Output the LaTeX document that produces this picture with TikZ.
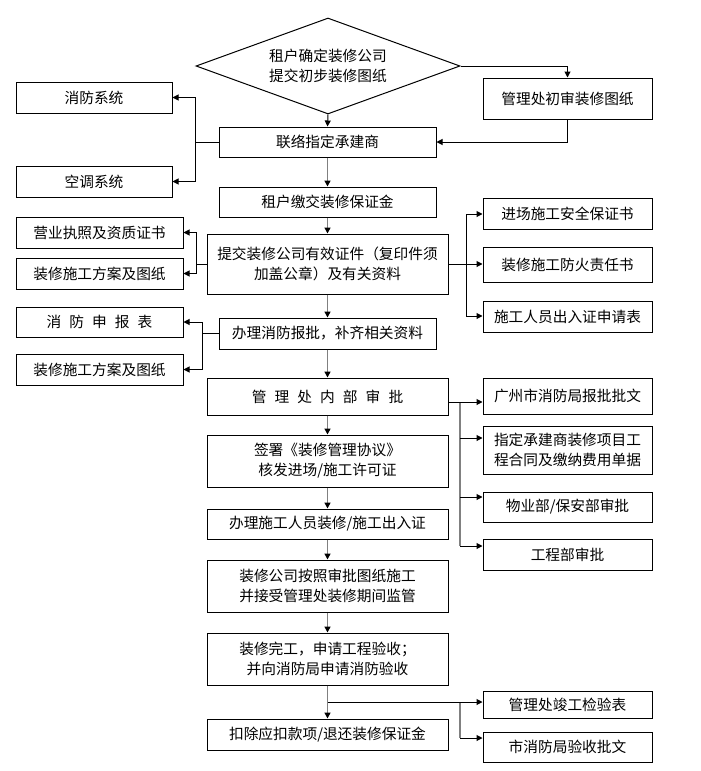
\documentclass[tikz,border=0pt]{standalone}
\usepackage{fontspec}
\setmainfont{Noto Sans CJK SC}
\usetikzlibrary{arrows.meta,shapes.geometric}
\definecolor{lgray}{RGB}{128,128,128}
\newcommand{\cjksp}{\hspace{0.55em}}
\begin{document}
\begin{tikzpicture}[x=1pt,y=-1pt,
  box/.style={draw=black,line width=1pt,inner sep=0pt,align=center,
    font=\fontsize{14.7}{20}\selectfont},
  conn/.style={draw=black,line width=1pt,-{Triangle[width=6pt,length=6pt]}},
  gconn/.style={draw=lgray,line width=1.6pt,-{Triangle[width=6pt,length=6pt,color=black]}},
  bline/.style={draw=black,line width=1pt},
  gline/.style={draw=lgray,line width=1.6pt}]
\useasboundingbox (0,0) rectangle (701,771);
% nodes
\node[box,shape=diamond,shape aspect=2.75,minimum width=264,minimum height=96] (d) at (328,66) {租户确定装修公司\\提交初步装修图纸};
\node[box,minimum width=169,minimum height=41] (csp) at (567.5,98.5) {管理处初审装修图纸};
\node[box,minimum width=217,minimum height=30] (lx) at (327.5,142) {联络指定承建商};
\node[box,minimum width=156,minimum height=31] (xf) at (94,97.5) {消防系统};
\node[box,minimum width=156,minimum height=31] (kt) at (94,181.5) {空调系统};
\node[box,minimum width=217,minimum height=30] (zh) at (327.5,202) {租户缴交装修保证金};
\node[box,minimum width=241,minimum height=60] (tj) at (327.5,264) {提交装修公司有效证件（复印件须\\加盖公章）及有关资料};
\node[box,minimum width=167,minimum height=31] (yy) at (99.5,232.5) {营业执照及资质证书};
\node[box,minimum width=167,minimum height=31] (fa1) at (99.5,273.5) {装修施工方案及图纸};
\node[box,minimum width=169,minimum height=31] (jc) at (567.5,213.5) {进场施工安全保证书};
\node[box,minimum width=169,minimum height=35] (fh) at (567.5,264.5) {装修施工防火责任书};
\node[box,minimum width=169,minimum height=31] (sg) at (567.5,316.5) {施工人员出入证申请表};
\node[box,minimum width=217,minimum height=31] (bl) at (327.5,333.5) {办理消防报批，补齐相关资料};
\node[box,minimum width=167,minimum height=30] (xs) at (99.5,322) {消\cjksp 防\cjksp 申\cjksp 报\cjksp 表};
\node[box,minimum width=167,minimum height=31] (fa2) at (99.5,369.5) {装修施工方案及图纸};
\node[box,minimum width=241,minimum height=37] (gl) at (327.5,396.5) {管\cjksp 理\cjksp 处\cjksp 内\cjksp 部\cjksp 审\cjksp 批};
\node[box,minimum width=241,minimum height=52] (qs) at (327.5,461) {签署《装修管理协议》\\核发进场/施工许可证};
\node[box,minimum width=241,minimum height=30] (bz) at (327.5,524) {办理施工人员装修/施工出入证};
\node[box,minimum width=241,minimum height=52] (zx) at (327.5,586) {装修公司按照审批图纸施工\\并接受管理处装修期间监管};
\node[box,minimum width=241,minimum height=52] (wg) at (327.5,659) {装修完工，申请工程验收；\\并向消防局申请消防验收};
\node[box,minimum width=241,minimum height=31] (kc) at (327.5,734.5) {扣除应扣款项/退还装修保证金};
\node[box,minimum width=169,minimum height=36] (gz) at (567.5,396) {广州市消防局报批批文};
\node[box,minimum width=169,minimum height=48] (zd) at (567.5,450) {指定承建商装修项目工\\程合同及缴纳费用单据};
\node[box,minimum width=169,minimum height=30] (wy) at (567.5,507) {物业部/保安部审批};
\node[box,minimum width=169,minimum height=31] (gc) at (567.5,554.5) {工程部审批};
\node[box,minimum width=169,minimum height=27] (jg) at (567.5,704.5) {管理处竣工检验表};
\node[box,minimum width=169,minimum height=30] (sx) at (567.5,747) {市消防局验收批文};
% bus coordinates
\coordinate (lxb) at (195,142);
\coordinate (tjl) at (196,264);
\coordinate (tjr) at (466,264);
\coordinate (blb) at (202,333.5);
\coordinate (gb1) at (460,402);
\coordinate (gb2) at (460,546);
\coordinate (gb3) at (460,438);
\coordinate (gb4) at (460,497);
\coordinate (wb0) at (327.5,702);
\coordinate (wb1) at (460,702);
\coordinate (wb2) at (460,738);
% top
\draw[conn] (d.east) -| (csp.north);
\draw[conn] (csp.south) |- (lx.east);
\draw[conn] (d.south) -- (lx.north);
\draw[bline] (lx.west) -- (lxb);
\draw[conn] (lxb) |- (xf.east);
\draw[conn] (lxb) |- (kt.east);
\draw[gconn] (lx.south) -- (zh.north);
\draw[gconn] (zh.south) -- (tj.north);
% tj branches
\draw[bline] (tj.west) -- (tjl);
\draw[conn] (tjl) |- (yy.east);
\draw[conn] (tjl) |- (fa1.east);
\draw[conn] (tj.east) -- (fh.west |- tjr);
\draw[conn] (tjr) |- ([yshift=-0.5pt]jc.west);
\draw[conn] (tjr) |- ([yshift=0.5pt]sg.west);
\draw[gconn] (tj.south) -- (bl.north);
% bl branches
\draw[bline] (bl.west) -- (blb);
\draw[conn] (blb) |- (xs.east);
\draw[conn] (blb) |- (fa2.east);
\draw[gconn] (bl.south) -- (gl.north);
% gl branches
\draw[gline] (gb1) -- (gb2);
\draw[conn] ([yshift=-5.5pt]gl.east) -- ([yshift=-6pt]gz.west);
\draw[conn] (gb3) -- ([yshift=12pt]zd.west);
\draw[conn] (gb4) -- ([yshift=10pt]wy.west);
\draw[conn] (gb2) -- ([yshift=8.5pt]gc.west);
% middle chain
\draw[gconn] (gl.south) -- (qs.north);
\draw[gconn] (qs.south) -- (bz.north);
\draw[gconn] (bz.south) -- (zx.north);
\draw[gconn] (zx.south) -- (wg.north);
\draw[gconn] (wg.south) -- (kc.north);
% bottom branches
\draw[gline] (wb1) -- (wb2);
\draw[conn] (wb0) -- ([yshift=2.5pt]jg.west);
\draw[conn] (wb2) -- ([yshift=9pt]sx.west);
\end{tikzpicture}
\end{document}
